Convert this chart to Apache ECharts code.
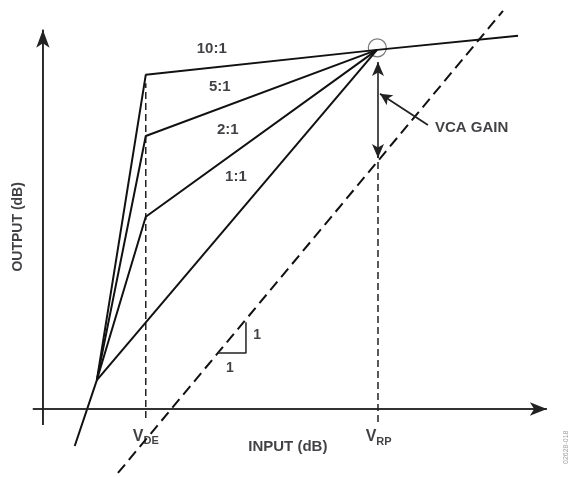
<!DOCTYPE html>
<html>
<head>
<meta charset="utf-8">
<script src="https://cdn.jsdelivr.net/npm/echarts@6/dist/echarts.min.js"></script>
<style>html,body{margin:0;padding:0;background:#fff}#c{width:569px;height:477px}</style>
</head>
<body>
<div id="c"></div>
<script>
// ---- data (arbitrary dB units) ----
const xRange = [-12.8, 157];
const yRange = [-16.9, 101.7];
const ratioLabels = ['10:1', '5:1', '2:1', '1:1'];
const curve10 = [[9.5, -9.2], [16.1, 7.2], [30.7, 83.1], [99.7, 89.3], [141.8, 92.8]];
const curve5 = [[16.1, 7.2], [30.7, 67.9], [99.7, 89.3]];
const curve2 = [[16.1, 7.2], [30.7, 47.8], [99.7, 89.3]];
const curve1 = [[16.1, 7.2], [99.7, 89.3]];
const unityLine = [[22.4, -15.9], [137.3, 99]];
const ratioLabelPos = [[50.4, 89.6], [52.8, 80.1], [55.2, 69.4], [57.6, 57.7]];
const vDE = 30.7;
const vRP = 100;
const vdeDash = [[vDE, -2.2], [vDE, 81]];
const vrpDash = [[vRP, -3.2], [vRP, 63]];
const slopeTri = [[52.2, 13.9], [60.6, 13.9], [60.6, 21.6]];
const circlePt = [99.8, 89.8];
const xAxisLine = [[-3, 0], [150.4, 0]];
const yAxisLine = [[0, -4], [0, 94.3]];
const gainArrow = [[vRP, 62.4], [vRP, 86.3]];
const pointerArrow = [[114.9, 70.6], [100.6, 78.4]];

const TXT = '#111116';
const FONT = '"Liberation Sans", Arial, sans-serif';

function lineSeries(data, style) {
  return {
    type: 'line', data: data, symbol: 'none', silent: true, animation: false,
    clip: false, lineStyle: Object.assign({ color: '#111', width: 2 }, style)
  };
}
function arrow(pair, symbols, size, width) {
  return [{ coord: pair[0], symbol: symbols[0], symbolSize: size },
          { coord: pair[1], symbol: symbols[1], symbolSize: size,
            lineStyle: { color: '#222', width: width, type: 'solid' } }];
}
function lbl(pos, text, extra) {
  return {
    value: pos,
    label: Object.assign({
      show: true, position: 'inside', formatter: text, color: TXT,
      fontFamily: FONT, fontWeight: 'bold', fontSize: 15
    }, extra || {})
  };
}

const labelData = ratioLabels.map((t, i) => lbl(ratioLabelPos[i], t));
labelData.push(lbl([117, 70.0], 'VCA GAIN', { position: 'right', distance: 0 }));
labelData.push(lbl([-7.5, 45.3], 'OUTPUT (dB)', { rotate: 90, fontSize: 14 }));
labelData.push(lbl([73.1, -9.5], 'INPUT (dB)'));
labelData.push(lbl([vDE, -7.0], '{v|V}{s|DE}'));
labelData.push(lbl([vRP + 0.2, -7.2], '{v|V}{s|RP}'));
labelData.push(lbl([63.9, 18.4], '1', { fontSize: 14 }));
labelData.push(lbl([55.8, 10.2], '1', { fontSize: 14 }));
labelData.push(lbl([156.1, -9.5], '02628-018', { rotate: 90, fontSize: 7, fontWeight: 'normal', color: '#8a8a8a' }));

const rich = {
  v: { fontSize: 16, fontWeight: 'bold', color: TXT, fontFamily: FONT, verticalAlign: 'top' },
  s: { fontSize: 11, fontWeight: 'bold', color: TXT, fontFamily: FONT, padding: [7, 0, 0, 0] }
};
labelData.forEach(d => { d.label.rich = rich; });

const chart = echarts.init(document.getElementById('c'), null, { renderer: 'canvas' });
chart.setOption({
  animation: false,
  backgroundColor: '#fff',
  grid: { left: 0, right: 0, top: 0, bottom: 0 },
  xAxis: { type: 'value', min: xRange[0], max: xRange[1], show: false },
  yAxis: { type: 'value', min: yRange[0], max: yRange[1], show: false },
  series: [
    lineSeries(xAxisLine, { color: '#333', width: 1.6 }),
    lineSeries(yAxisLine, { color: '#333', width: 1.6 }),
    lineSeries(vdeDash, { color: '#222', width: 1.5, type: [7, 4] }),
    lineSeries(vrpDash, { color: '#222', width: 1.5, type: [7, 4] }),
    lineSeries(unityLine, { color: '#111', width: 2, type: [11, 6] }),
    lineSeries(curve10),
    lineSeries(curve5),
    lineSeries(curve2),
    lineSeries(curve1),
    lineSeries(slopeTri, { width: 1.5, color: '#222' }),
    {
      type: 'line', data: [], symbol: 'none', silent: true, animation: false,
      markLine: {
        silent: true, animation: false, label: { show: false },
        lineStyle: { color: '#222', width: 1.6, type: 'solid' },
        data: [
          arrow([xAxisLine[0], xAxisLine[1]], ['none', 'arrow'], [10, 17], 1.6),
          arrow([yAxisLine[0], yAxisLine[1]], ['none', 'arrow'], [10, 18], 1.6),
          arrow(gainArrow, ['arrow', 'arrow'], [9, 14], 1.6),
          arrow(pointerArrow, ['none', 'arrow'], [9, 12], 1.8)
        ]
      }
    },
    {
      type: 'scatter', data: [circlePt], symbol: 'circle', symbolSize: 18, silent: true,
      itemStyle: { color: 'rgba(0,0,0,0)', borderColor: '#555', borderWidth: 1.2 }
    },
    {
      type: 'scatter', data: labelData, symbolSize: 0, silent: true,
      itemStyle: { color: 'rgba(0,0,0,0)' }
    }
  ]
});
</script>
</body>
</html>
